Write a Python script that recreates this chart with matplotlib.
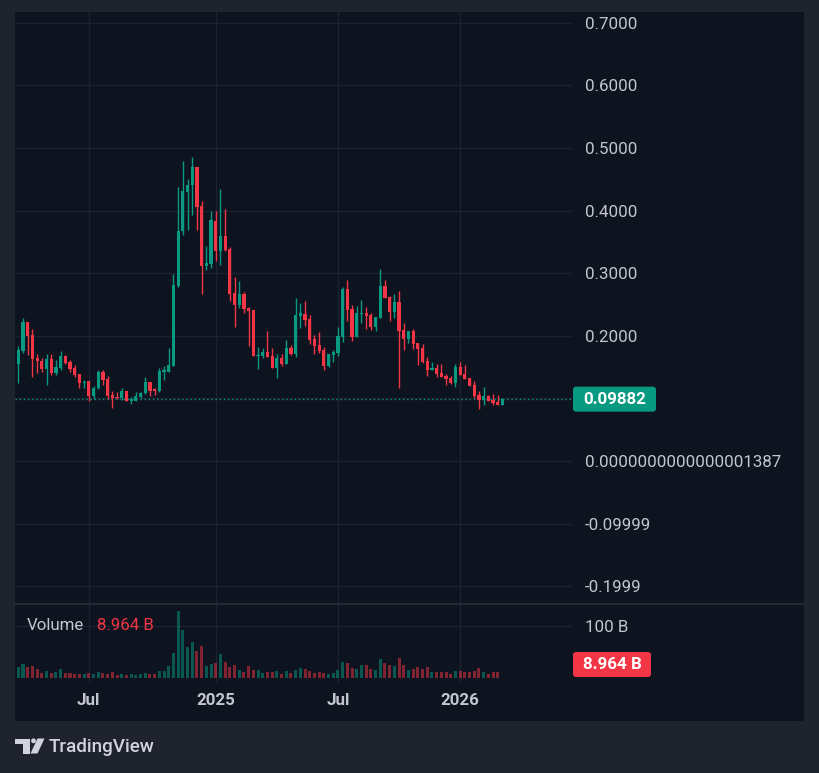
import matplotlib
matplotlib.use("Agg")
import matplotlib.pyplot as plt
import matplotlib.transforms as mtransforms
from matplotlib.patches import FancyBboxPatch, Rectangle, Polygon, Circle
from matplotlib.lines import Line2D
import numpy as np
import pandas as pd

plt.rcParams['font.family'] = ['Roboto', 'DejaVu Sans']

# ---------------- data (weekly candles) ----------------
dates = pd.date_range("2024-03-18", periods=104, freq="7D")

opens = [0.155, 0.176, 0.222, 0.201, 0.164, 0.159, 0.147, 0.163, 0.141, 0.149,
         0.168, 0.158, 0.149, 0.139, 0.124, 0.128, 0.104, 0.116, 0.142, 0.131,
         0.105, 0.103, 0.100, 0.112, 0.096, 0.096, 0.102, 0.108, 0.126, 0.115,
         0.112, 0.142, 0.143, 0.152, 0.280, 0.367, 0.430, 0.441, 0.470, 0.407,
         0.312, 0.315, 0.383, 0.336, 0.359, 0.339, 0.268, 0.249, 0.267, 0.244,
         0.241, 0.168, 0.168, 0.174, 0.168, 0.149, 0.165, 0.155, 0.181, 0.171,
         0.232, 0.235, 0.227, 0.195, 0.185, 0.177, 0.152, 0.169, 0.173, 0.198,
         0.275, 0.243, 0.198, 0.235, 0.236, 0.233, 0.214, 0.228, 0.280, 0.262,
         0.238, 0.254, 0.209, 0.195, 0.208, 0.1885, 0.181, 0.160, 0.145, 0.149,
         0.141, 0.136, 0.133, 0.125, 0.150, 0.139, 0.133, 0.121, 0.105, 0.097,
         0.104, 0.097, 0.094, 0.0895]
highs = [0.183, 0.228, 0.222, 0.211, 0.171, 0.164, 0.171, 0.171, 0.161, 0.176,
         0.169, 0.162, 0.153, 0.139, 0.129, 0.128, 0.120, 0.145, 0.145, 0.136,
         0.112, 0.110, 0.117, 0.112, 0.102, 0.110, 0.111, 0.134, 0.126, 0.117,
         0.148, 0.152, 0.180, 0.299, 0.438, 0.479, 0.450, 0.486, 0.470, 0.415,
         0.343, 0.399, 0.399, 0.435, 0.403, 0.342, 0.294, 0.288, 0.270, 0.246,
         0.241, 0.182, 0.181, 0.208, 0.181, 0.171, 0.171, 0.193, 0.185, 0.260,
         0.252, 0.256, 0.233, 0.201, 0.206, 0.182, 0.171, 0.177, 0.214, 0.278,
         0.289, 0.249, 0.248, 0.257, 0.246, 0.236, 0.230, 0.307, 0.289, 0.264,
         0.267, 0.272, 0.220, 0.208, 0.211, 0.1885, 0.187, 0.166, 0.158, 0.155,
         0.155, 0.139, 0.136, 0.155, 0.158, 0.153, 0.133, 0.128, 0.112, 0.118,
         0.105, 0.107, 0.105, 0.1006]
lows = [0.125, 0.172, 0.169, 0.135, 0.141, 0.142, 0.121, 0.137, 0.138, 0.145,
        0.155, 0.143, 0.135, 0.117, 0.117, 0.096, 0.0995, 0.1155, 0.121, 0.0995,
        0.084, 0.099, 0.097, 0.096, 0.091, 0.096, 0.100, 0.107, 0.104, 0.106,
        0.110, 0.129, 0.142, 0.151, 0.278, 0.361, 0.369, 0.393, 0.369, 0.267,
        0.305, 0.308, 0.320, 0.313, 0.335, 0.256, 0.214, 0.244, 0.236, 0.184,
        0.168, 0.147, 0.165, 0.166, 0.149, 0.133, 0.152, 0.155, 0.169, 0.166,
        0.2125, 0.216, 0.187, 0.171, 0.173, 0.145, 0.150, 0.158, 0.168, 0.190,
        0.224, 0.192, 0.198, 0.220, 0.211, 0.209, 0.208, 0.228, 0.260, 0.224,
        0.228, 0.117, 0.177, 0.1885, 0.179, 0.153, 0.157, 0.136, 0.145, 0.134,
        0.134, 0.121, 0.123, 0.118, 0.137, 0.131, 0.120, 0.101, 0.083, 0.0895,
        0.0958, 0.0895, 0.0895, 0.0895]
closes = [0.177, 0.222, 0.200, 0.163, 0.159, 0.147, 0.163, 0.141, 0.150, 0.168,
          0.157, 0.147, 0.138, 0.124, 0.127, 0.104, 0.117, 0.142, 0.130, 0.104,
          0.101, 0.100, 0.112, 0.096, 0.0985, 0.104, 0.109, 0.126, 0.112, 0.112,
          0.144, 0.146, 0.153, 0.281, 0.367, 0.431, 0.441, 0.470, 0.406, 0.312,
          0.316, 0.385, 0.336, 0.359, 0.337, 0.267, 0.249, 0.267, 0.243, 0.240,
          0.168, 0.169, 0.174, 0.166, 0.149, 0.165, 0.155, 0.181, 0.171, 0.233,
          0.236, 0.225, 0.193, 0.184, 0.176, 0.152, 0.171, 0.174, 0.200, 0.275,
          0.241, 0.198, 0.236, 0.236, 0.232, 0.214, 0.230, 0.280, 0.260, 0.238,
          0.254, 0.208, 0.195, 0.208, 0.187, 0.179, 0.158, 0.145, 0.149, 0.139,
          0.134, 0.131, 0.125, 0.150, 0.137, 0.131, 0.120, 0.104, 0.097, 0.104,
          0.096, 0.093, 0.0895, 0.09882]
# volume in billions
volumes = [21, 27, 21, 23, 17, 9.6, 13.5, 9.6, 11.5, 17,
           9.6, 9.6, 7.7, 7.7, 7.7, 9.6, 7.7, 11.5, 9.6, 7.7,
           11.5, 5.8, 7.7, 5.8, 7.7, 5.8, 7.7, 9.6, 7.7, 7.7,
           13.5, 13.5, 23, 48, 129, 92, 59.6, 69, 52, 61.5,
           23, 27, 29, 46, 31, 21, 25, 15, 11.5, 23,
           15, 15, 9.6, 11.5, 11.5, 13.5, 7.7, 13.5, 9.6, 15,
           19, 17, 13.5, 9.6, 11.5, 9.6, 7.7, 9.6, 15, 31,
           29, 19, 17, 25, 25, 17, 15, 36.5, 29, 25,
           23, 38.5, 25, 15, 17, 21, 17, 21, 11.5, 11.5,
           11.5, 11.5, 7.7, 13.5, 13.5, 11.5, 11.5, 13.5, 19, 11.5,
           7.7, 11.5, 11.5, 0]

price_ticks = [0.7, 0.6, 0.5, 0.4, 0.3, 0.2, 0.1, 0.0, -0.1, -0.2]
price_tick_labels = ["0.7000", "0.6000", "0.5000", "0.4000", "0.3000", "0.2000",
                     "", "0.0000000000000001387", "-0.09999", "-0.1999"]
volume_ticks = [100]
volume_tick_labels = ["100 B"]
month_starts = ["2024-07-01", "2025-01-01", "2025-07-01", "2026-01-01"]
time_labels = ["Jul", "2025", "Jul", "2026"]
last_price_label = "0.09882"
last_volume_label = "8.964 B"

# ---------------- style ----------------
W, H = 819, 773
FRAME = "#1f232e"
BG = "#0e1320"
GRID = "#1d2230"
SEP = "#2a2e39"
TXT = "#c3c6ce"
UP = "#089981"
DOWN = "#f23645"
FS = 12.2

fig = plt.figure(figsize=(W / 100, H / 100), dpi=100)
fig.patch.set_facecolor(FRAME)


def fx(px):
    return px / W


def fy(py):
    return 1 - py / H


fig.add_artist(Rectangle((fx(15), fy(721)), fx(804) - fx(15), fy(12) - fy(721),
                         transform=fig.transFigure, fc=BG, ec='none', zorder=0))

ax = fig.add_axes([fx(15), fy(603), fx(572) - fx(15), fy(12) - fy(603)])
axv = fig.add_axes([fx(15), fy(683), fx(572) - fx(15), fy(603) - fy(683)], sharex=ax)
for a in (ax, axv):
    a.set_facecolor('none')
    for s in a.spines.values():
        s.set_visible(False)

n = len(closes)
x = np.arange(n)
o = np.array(opens); h = np.array(highs); l = np.array(lows); c = np.array(closes)
up = c >= o
colors = np.where(up, UP, DOWN)

ax.vlines(x, l, h, colors=colors, lw=1, zorder=3)
ax.bar(x, np.maximum(np.abs(c - o), 0.0016), bottom=np.minimum(o, c), width=0.68,
       color=colors, lw=0, zorder=4)
ax.axhline(closes[-1], color=UP, lw=1, ls=(0, (1, 2)), zorder=2)

ax.set_xlim(-0.702, 117.8)
ax.set_ylim(-0.2268, 0.7173)

ax.set_yticks(price_ticks)
ax.set_yticklabels(price_tick_labels)
ax.yaxis.tick_right()
ax.tick_params(axis='y', length=0, pad=9.4, labelsize=FS, labelcolor=TXT)
ax.tick_params(axis='x', length=0, labelbottom=False)

tick_idx = [int(np.argmax(dates >= pd.Timestamp(m))) for m in month_starts]
ax.set_xticks(tick_idx)
ax.grid(True, color=GRID, lw=1, zorder=0)

vol_colors = [(8/255, 153/255, 129/255, 0.5) if u else (242/255, 54/255, 69/255, 0.5) for u in up]
axv.bar(x, volumes, width=0.64, color=vol_colors, lw=0, zorder=3)
axv.set_ylim(-9.6, 144.2)
axv.set_yticks(volume_ticks)
axv.set_yticklabels(volume_tick_labels)
axv.yaxis.tick_right()
axv.tick_params(axis='y', length=0, pad=9.4, labelsize=FS, labelcolor=TXT)
axv.set_xticks(tick_idx)
axv.set_xticklabels(time_labels)
axv.tick_params(axis='x', length=0, pad=7, labelsize=FS, labelcolor=TXT)
for t in axv.get_xticklabels():
    t.set_fontweight('bold')
axv.grid(True, color=GRID, lw=1, zorder=0)

# pane separator
fig.add_artist(Line2D([fx(15), fx(804)], [fy(603.5), fy(603.5)], color=SEP, lw=1.2))

# volume legend
fig.text(fx(27), fy(626), "Volume", color=TXT, fontsize=FS, va='center', ha='left')
fig.text(fx(97), fy(626), last_volume_label, color=DOWN, fontsize=FS, va='center', ha='left')

ident = mtransforms.IdentityTransform()
# last price label
yc = ax.transData.transform((0, closes[-1]))[1]
fig.add_artist(FancyBboxPatch((573, yc - 12.5), 83, 25, boxstyle="round,pad=0,rounding_size=3",
                              transform=ident, fc=UP, ec='none', zorder=5))
fig.text(fx(614.5), yc / H, last_price_label, color='white', fontsize=FS, fontweight='bold',
         ha='center', va='center', zorder=6)
# last volume label
fig.add_artist(FancyBboxPatch((573, H - 677), 78, 25, boxstyle="round,pad=0,rounding_size=3",
                              transform=ident, fc=DOWN, ec='none', zorder=5))
fig.text(fx(612), fy(664.5), last_volume_label, color='white', fontsize=FS, fontweight='bold',
         ha='center', va='center', zorder=6)

# TradingView logo
LOGO = "#d1d4dc"
def P(xp, yp):
    return (xp, H - yp)
fig.add_artist(Polygon([P(15, 738.5), P(30, 738.5), P(30, 753.5), P(23, 753.5), P(23, 744), P(15, 744)],
                       closed=True, transform=ident, fc=LOGO, ec='none'))
fig.add_artist(Circle(P(33.5, 740.8), 2.4, transform=ident, fc=LOGO, ec='none'))
fig.add_artist(Polygon([P(37.5, 738.5), P(44.5, 738.5), P(37.5, 753.5), P(30.5, 753.5)],
                       closed=True, transform=ident, fc=LOGO, ec='none'))
fig.text(fx(48.5), fy(746.5), "TradingView", color=LOGO, fontsize=13.6, fontweight='medium',
         ha='left', va='center')

fig.savefig("out.png", dpi=100, facecolor=FRAME)
